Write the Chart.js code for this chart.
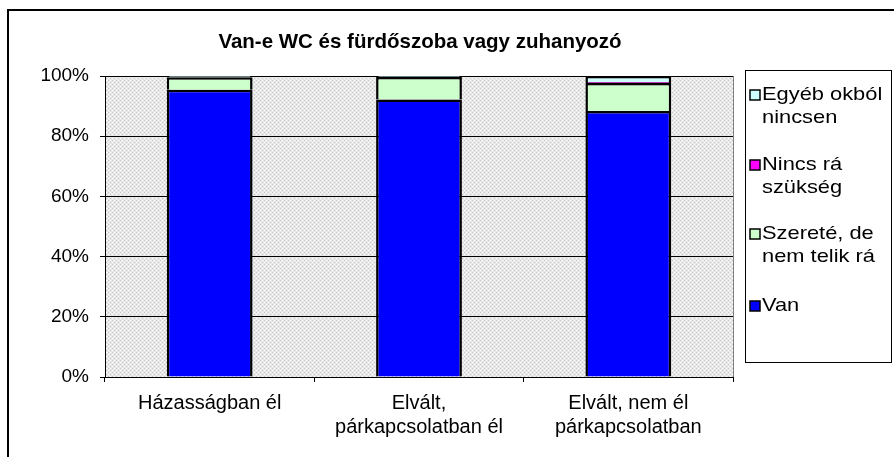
<!DOCTYPE html>
<html>
<head>
<meta charset="utf-8">
<script src="https://cdn.jsdelivr.net/npm/chart.js@4/dist/chart.umd.min.js"></script>
<style>
  html, body { margin: 0; padding: 0; background: #fff; }
  #wrap { width: 894px; height: 457px; position: relative; }
</style>
</head>
<body>
<div id="wrap"><canvas id="chart" width="894" height="457"></canvas></div>
<script>
const title = 'Van-e WC és fürdőszoba vagy zuhanyozó';
const categories = [['Házasságban él'], ['Elvált,', 'párkapcsolatban él'], ['Elvált, nem él', 'párkapcsolatban']];
const yTicks = [0, 20, 40, 60, 80, 100];

const van = [95.4, 92.2, 88.4];
const szerete = [4.2, 7.5, 9.3];
const nincs = [0, 0, 0.3];
const egyeb = [0.4, 0.3, 2.0];

const legendLines = [
  ['Egyéb okból', 'nincsen'],
  ['Nincs rá', 'szükség'],
  ['Szereté, de', 'nem telik rá'],
  ['Van'],
];

const FONT = 'Arial, "Liberation Sans", sans-serif';

// Excel-like dotted gray plot background
function makePattern(ctx) {
  const c = document.createElement('canvas');
  c.width = 4; c.height = 4;
  const p = c.getContext('2d');
  p.fillStyle = '#e8e8e8';
  p.fillRect(0, 0, 4, 4);
  p.fillStyle = '#c8c8c8';
  p.fillRect(0, 0, 1, 1); p.fillRect(2, 2, 1, 1);
  p.fillStyle = '#ffffff';
  p.fillRect(2, 0, 1, 1); p.fillRect(0, 2, 1, 1);
  return ctx.createPattern(c, 'repeat');
}

const decor = {
  id: 'decor',
  beforeDraw(chart) {
    const { ctx, chartArea: a } = chart;
    ctx.save();
    ctx.fillStyle = makePattern(ctx);
    ctx.fillRect(a.left, a.top, a.right - a.left, a.bottom - a.top);
    ctx.strokeStyle = '#808080';
    ctx.lineWidth = 1;
    ctx.strokeRect(a.left + 0.5, a.top + 0.5, a.right - a.left, a.bottom - a.top);
    // outer chart frame
    ctx.strokeStyle = '#000';
    ctx.lineWidth = 2;
    ctx.beginPath();
    ctx.moveTo(8, 470); ctx.lineTo(8, 10); ctx.lineTo(900, 10);
    ctx.stroke();
    ctx.restore();
  },
  afterDraw(chart) {
    const { ctx } = chart;
    ctx.save();
    ctx.fillStyle = '#000';
    ctx.font = 'bold 20.5px ' + FONT;
    ctx.textAlign = 'center';
    ctx.textBaseline = 'middle';
    ctx.fillText(title, 420, 42);
    // legend
    ctx.strokeStyle = '#000';
    ctx.lineWidth = 1;
    ctx.strokeRect(745.5, 70.5, 146, 292);
    ctx.font = '19px ' + FONT;
    ctx.textAlign = 'left';
    const ds = chart.data.datasets;
    const rowY = [95, 165, 234, 306];
    legendLines.forEach((lines, i) => {
      const d = ds[ds.length - 1 - i];
      const y = rowY[i];
      ctx.fillStyle = d.backgroundColor;
      ctx.fillRect(750, y - 5, 10, 10);
      ctx.strokeStyle = '#000';
      ctx.lineWidth = 1.5;
      ctx.strokeRect(750, y - 5, 10, 10);
      ctx.fillStyle = '#000';
      lines.forEach((t, j) => {
        ctx.save();
        ctx.translate(762, y + j * 23);
        ctx.scale(1.15, 1);
        ctx.fillText(t, 0, 0);
        ctx.restore();
      });
    });
    ctx.restore();
  }
};

const seriesStyle = { borderColor: '#000', borderWidth: 2.5, borderSkipped: 'bottom', barPercentage: 0.41, categoryPercentage: 1 };

new Chart(document.getElementById('chart').getContext('2d'), {
  type: 'bar',
  data: {
    labels: categories,
    datasets: [
      { label: 'Van', data: van, backgroundColor: '#0000ff', ...seriesStyle },
      { label: 'Szereté, de nem telik rá', data: szerete, backgroundColor: '#ccffcc', ...seriesStyle },
      { label: 'Nincs rá szükség', data: nincs, backgroundColor: '#ff00ff', ...seriesStyle },
      { label: 'Egyéb okból nincsen', data: egyeb, backgroundColor: '#ccffff', ...seriesStyle },
    ],
  },
  options: {
    responsive: false,
    animation: false,
    layout: { padding: { top: 76, right: 894 - 733, left: 0, bottom: 0 } },
    plugins: { legend: { display: false }, title: { display: false }, tooltip: { enabled: false } },
    scales: {
      x: {
        stacked: true,
        grid: { offset: true, drawOnChartArea: false, color: '#000', tickLength: 5, tickWidth: 1 },
        border: { color: '#000', width: 1 },
        ticks: { color: '#000', font: { family: FONT, size: 20 }, padding: 9, maxRotation: 0, autoSkip: false },
        afterFit(s) { s.height = 457 - 377; },
      },
      y: {
        stacked: true,
        min: 0,
        max: 100,
        afterBuildTicks(s) { s.ticks = yTicks.map(v => ({ value: v })); },
        grid: { color: '#000', lineWidth: 1, tickLength: 5 },
        border: { color: '#000', width: 1 },
        ticks: { color: '#000', font: { family: FONT, size: 19 }, padding: 11, callback: v => v + '%' },
        afterFit(s) { s.width = 105; },
      },
    },
  },
  plugins: [decor],
});
</script>
</body>
</html>
